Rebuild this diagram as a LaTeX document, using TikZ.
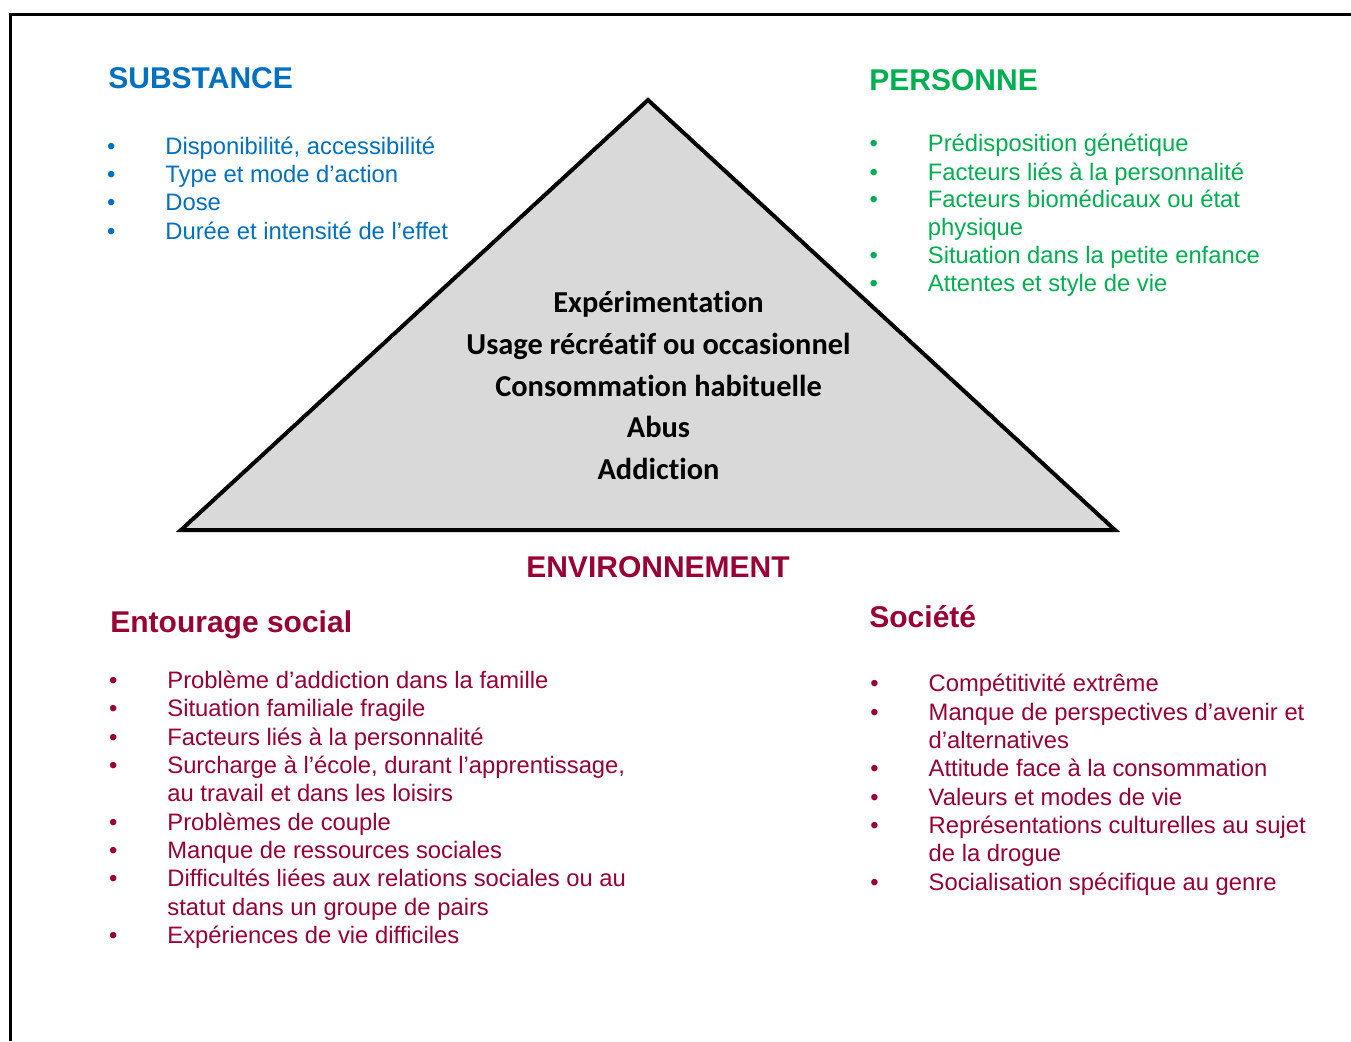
\documentclass[tikz,border=0pt]{standalone}
\usepackage{fontspec}
\setmainfont{Liberation Sans}
\newfontfamily\calibri[Ligatures = NoCommon]{Carlito}
\usetikzlibrary{positioning}
\definecolor{substblue}{HTML}{0070C0}
\definecolor{persgreen}{HTML}{00B050}
\definecolor{envred}{HTML}{990033}
\definecolor{pyramidgray}{HTML}{D9D9D9}
\newcommand{\puce}{\leavevmode\llap{\textbullet\hspace{25pt}}}
\tikzset{
heading/.style = {anchor = base west, inner sep = 0pt, font = \fontsize{15}{18}\selectfont\bfseries},
item/.style = {anchor = base west, inner sep = 0pt, align = left, font = \fontsize{11.9}{14.15}\selectfont},
stage/.style = {anchor = base, inner sep = 0pt, font = \calibri\fontsize{15.2}{18}\selectfont\bfseries},
pyramid/.style = {draw = black, line width = 2pt, line join = miter, fill = pyramidgray},
}

\begin{document}
\begin{tikzpicture}[x = 0.5pt, y = -0.5pt]
    \useasboundingbox (0, 0) rectangle (1351, 1041);
    \draw[line width = 1.8pt] (10.5, 1041) -- (10.5, 14.5) -- (1351, 14.5);
    % pyramid
    \coordinate (apex) at (648, 100);
    \coordinate (base left) at (181, 530);
    \coordinate (base right) at (1115, 530);
    \draw[pyramid] (apex) -- (base right) -- (base left) -- cycle;
    \node[stage] (t1) at (658.5, 312) {Expérimentation};
    \node[stage] (t2) at (658.5, 354) {Usage récréatif ou occasionnel};
    \node[stage] (t3) at (658.5, 396) {Consommation habituelle};
    \node[stage] (t4) at (658.5, 437) {Abus};
    \node[stage] (t5) at (658.5, 479) {Addiction};
    % substance
    \node[heading, substblue] (substance) at (108, 88) {SUBSTANCE};
    \node[item, substblue] (s1) at (165, 154) {\puce Disponibilité, accessibilité};
    \node[item, substblue] (s2) at (165, 182.4) {\puce Type et mode d’action};
    \node[item, substblue] (s3) at (165, 210.8) {\puce Dose};
    \node[item, substblue] (s4) at (165, 239.2) {\puce Durée et intensité de l’effet};
    % personne (multi-line items: base = last line)
    \node[heading, persgreen] (personne) at (869, 90) {PERSONNE};
    \node[item, persgreen] (p1) at (927.5, 151.7) {\puce Prédisposition génétique};
    \node[item, persgreen] (p2) at (927.5, 180) {\puce Facteurs liés à la personnalité};
    \node[item, persgreen] (p3) at (927.5, 235.5) {\puce Facteurs biomédicaux ou état\\physique};
    \node[item, persgreen] (p4) at (927.5, 263.3) {\puce Situation dans la petite enfance};
    \node[item, persgreen] (p5) at (927.5, 291) {\puce Attentes et style de vie};
    % environnement
    \node[heading, envred, anchor = base] (environnement) at (658, 577) {ENVIRONNEMENT};
    \node[heading, envred] (entourage) at (110, 632) {Entourage social};
    \node[item, envred] (e1) at (167, 688) {\puce Problème d’addiction dans la famille};
    \node[item, envred] (e2) at (167, 716.5) {\puce Situation familiale fragile};
    \node[item, envred] (e3) at (167, 745) {\puce Facteurs liés à la personnalité};
    \node[item, envred] (e4) at (167, 801.5) {\puce Surcharge à l’école, durant l’apprentissage,\\au travail et dans les loisirs};
    \node[item, envred] (e5) at (167, 830) {\puce Problèmes de couple};
    \node[item, envred] (e6) at (167, 858) {\puce Manque de ressources sociales};
    \node[item, envred] (e7) at (167, 915) {\puce Difficultés liées aux relations sociales ou au\\statut dans un groupe de pairs};
    \node[item, envred] (e8) at (167, 943) {\puce Expériences de vie difficiles};
    \node[heading, envred] (societe) at (869, 627) {Société};
    \node[item, envred] (c1) at (928.3, 691.7) {\puce Compétitivité extrême};
    \node[item, envred] (c2) at (928.3, 748.3) {\puce Manque de perspectives d’avenir et\\d’alternatives};
    \node[item, envred] (c3) at (928.3, 776.7) {\puce Attitude face à la consommation};
    \node[item, envred] (c4) at (928.3, 805) {\puce Valeurs et modes de vie};
    \node[item, envred] (c5) at (928.3, 861.7) {\puce Représentations culturelles au sujet\\de la drogue};
    \node[item, envred] (c6) at (928.3, 890) {\puce Socialisation spécifique au genre};
\end{tikzpicture}
\end{document}
